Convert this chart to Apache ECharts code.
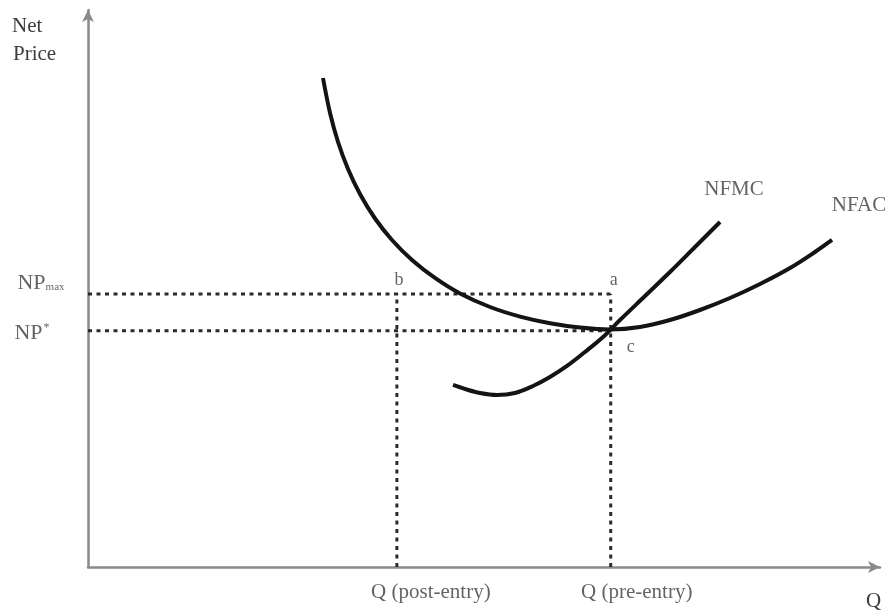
<!DOCTYPE html>
<html>
<head>
<meta charset="utf-8">
<script src="https://cdn.jsdelivr.net/npm/echarts@6/dist/echarts.min.js"></script>
<style>html,body{margin:0;padding:0;background:#fff;}#c{width:891px;height:616px;}</style>
</head>
<body>
<div id="c"></div>
<script>
// Quantity (x) and net price (y) on a 0-100 scale
const nfacQ = [29.67, 30.56, 31.57, 32.83, 34.34, 36.24, 38.38, 40.91, 43.81, 46.97, 50.76, 54.55, 58.33, 62.12, 65.91, 69.70, 73.48, 77.27, 81.06, 84.85, 88.64, 91.79, 93.94];
const nfacP = [87.79, 81.51, 76.30, 71.45, 66.97, 62.57, 58.71, 55.12, 51.89, 49.10, 46.68, 44.96, 43.77, 43.00, 42.64, 43.09, 44.34, 46.14, 48.29, 50.81, 53.68, 56.55, 58.71];
const nfmcQ = [46.09, 47.60, 49.49, 51.64, 53.91, 56.19, 58.33, 60.48, 62.75, 65.03, 67.17, 70.33, 73.48, 76.64, 79.80];
const nfmcP = [32.68, 31.96, 31.24, 30.88, 31.24, 32.50, 34.11, 36.09, 38.60, 41.29, 44.34, 48.65, 52.96, 57.45, 61.94];
const qPost = 39.0;
const qPre = 66.0;
const npMax = 49.0;
const npStar = 42.4;
const curveNames = ['NFMC', 'NFAC'];
const qLabels = ['Q (post-entry)', 'Q (pre-entry)'];
const pointLabels = ['a', 'b', 'c'];

const zip = (a, b) => a.map((v, i) => [v, b[i]]);
const font = '"Liberation Serif", "DejaVu Serif", serif';
const txtColor = '#3c3c3c';
const dotted = { color: '#2a2a2a', width: 3, type: [4, 4.5] };

function lbl(value, text, offset, extra) {
  return {
    value: value,
    label: Object.assign({
      show: true, position: 'inside', formatter: text, offset: offset,
      fontFamily: font, fontSize: 20, color: txtColor, align: 'center', verticalAlign: 'middle'
    }, extra || {})
  };
}

const chart = echarts.init(document.getElementById('c'), null, { renderer: 'canvas' });
chart.setOption({
  animation: false,
  backgroundColor: '#ffffff',
  grid: { left: 88, right: 11, top: 10, bottom: 49, containLabel: false },
  xAxis: {
    type: 'value', min: 0, max: 100,
    axisLine: { show: true, symbol: ['none', 'arrow'], symbolSize: [9, 12], lineStyle: { color: '#8a8a8a', width: 2.5 } },
    axisTick: { show: false }, axisLabel: { show: false }, splitLine: { show: false }
  },
  yAxis: {
    type: 'value', min: 0, max: 100,
    axisLine: { show: true, symbol: ['none', 'arrow'], symbolSize: [9, 12], lineStyle: { color: '#8a8a8a', width: 2.5 } },
    axisTick: { show: false }, axisLabel: { show: false }, splitLine: { show: false }
  },
  graphic: [
    { type: 'text', left: 12, top: 16, style: { text: 'Net', font: '21px ' + font, fill: txtColor } },
    { type: 'text', left: 13, top: 44, style: { text: 'Price', font: '21px ' + font, fill: txtColor } },
    { type: 'text', left: 866, top: 591, style: { text: 'Q', font: '21px ' + font, fill: txtColor } }
  ],
  series: [
    { type: 'line', name: 'npMaxLine', data: [[0, npMax], [qPre, npMax]], symbol: 'none', lineStyle: dotted, z: 1 },
    { type: 'line', name: 'npStarLine', data: [[0, npStar], [qPre, npStar]], symbol: 'none', lineStyle: dotted, z: 1 },
    { type: 'line', name: 'qPostLine', data: [[qPost, 0], [qPost, npMax]], symbol: 'none', lineStyle: dotted, z: 1 },
    { type: 'line', name: 'qPreLine', data: [[qPre, 0], [qPre, npMax]], symbol: 'none', lineStyle: dotted, z: 1 },
    { type: 'line', name: 'NFAC', data: zip(nfacQ, nfacP), symbol: 'none', smooth: 0.35,
      lineStyle: { color: '#141414', width: 4 }, z: 3 },
    { type: 'line', name: 'NFMC', data: zip(nfmcQ, nfmcP), symbol: 'none', smooth: 0.35,
      lineStyle: { color: '#141414', width: 4 }, z: 3 },
    {
      type: 'scatter', name: 'labels', symbolSize: 1, itemStyle: { color: 'rgba(0,0,0,0)' }, silent: true, z: 5,
      data: [
        lbl([qPre, npMax], pointLabels[0], [3, -14], { fontSize: 18 }),
        lbl([qPost, npMax], pointLabels[1], [2, -14], { fontSize: 18 }),
        lbl([qPre, npStar], pointLabels[2], [20, 16], { fontSize: 18 }),
        lbl([qPost, 0], qLabels[0], [34, 25], { fontSize: 21 }),
        lbl([qPre, 0], qLabels[1], [26, 25], { fontSize: 21 }),
        lbl([nfmcQ[nfmcQ.length - 1], nfmcP[nfmcP.length - 1]], curveNames[0], [14, -33], { fontSize: 21 }),
        lbl([nfacQ[nfacQ.length - 1], nfacP[nfacP.length - 1]], curveNames[1], [27, -35], { fontSize: 21 }),
        lbl([0, npMax], 'NP{s|max}', [-47, -11], { fontSize: 22, rich: { s: { fontFamily: font, fontSize: 11, color: txtColor, padding: [8, 0, 0, 0] } } }),
        lbl([0, npStar], 'NP{s|*}', [-56, 2], { fontSize: 22, rich: { s: { fontFamily: font, fontSize: 12, color: txtColor, padding: [0, 0, 10, 1] } } })
      ]
    }
  ]
});
</script>
</body>
</html>
